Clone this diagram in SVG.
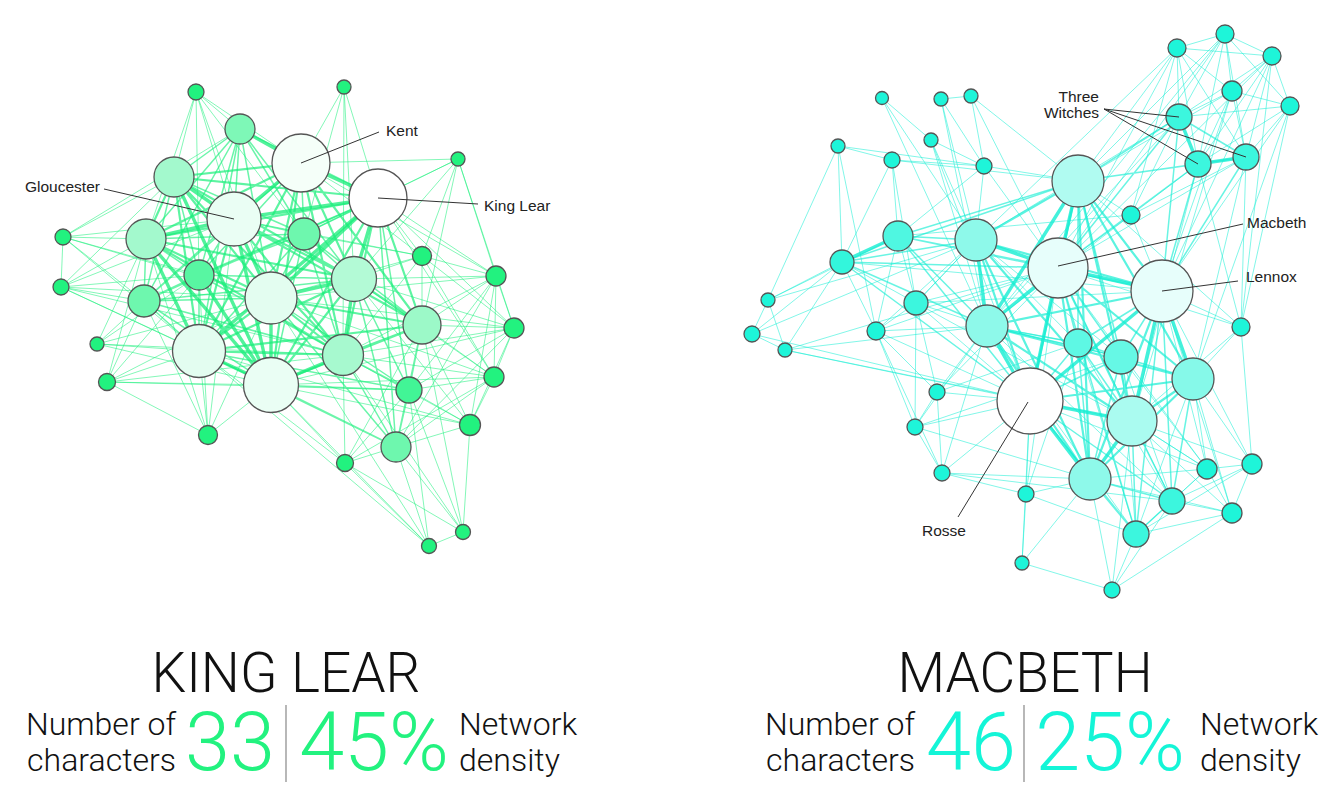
<svg xmlns="http://www.w3.org/2000/svg" width="1336" height="794" viewBox="0 0 1336 794">
<style>
.ge1{fill:none;stroke:#1ff07e;stroke-width:1;opacity:.55}
.ge2{fill:none;stroke:#1cef7c;stroke-width:1.5;opacity:.65}
.ge3{fill:none;stroke:#1aef7b;stroke-width:2.2;opacity:.7}
.ge4{fill:none;stroke:#18ee7a;stroke-width:3.4;opacity:.75}
.ce1{fill:none;stroke:#1befd6;stroke-width:1;opacity:.55}
.ce2{fill:none;stroke:#18eed4;stroke-width:1.5;opacity:.65}
.ce3{fill:none;stroke:#16eed3;stroke-width:2.2;opacity:.7}
.ce4{fill:none;stroke:#14edd2;stroke-width:3.4;opacity:.8}
circle{stroke:#555;stroke-width:1.3}
.g0{fill:#22f27f}.g1{fill:#42f596}.g2{fill:#6ef7ae}.g3{fill:#a3f9cd}.g4{fill:#e3fdf0}.g5{fill:#f5fff9}.w{fill:#fff}
.c0{fill:#1ef5d9}.c1{fill:#3cf6de}.c2{fill:#5ef8e4}.c3{fill:#8ef9ea}.c4{fill:#b0fbf1}.c5{fill:#e7fefb}
.lab{font-family:"Liberation Sans",Arial,sans-serif;font-size:15.5px;fill:#222}
.lead{stroke:#333;stroke-width:1;fill:none}
.title{font-family:Roboto,"Liberation Sans",sans-serif;font-weight:300;font-size:55px;fill:#111}
.sub{font-family:Roboto,"Liberation Sans",sans-serif;font-weight:300;font-size:32px;fill:#111}
.num{font-family:Roboto,"Liberation Sans",sans-serif;font-weight:300;font-size:81px}
.div{stroke:#888;stroke-width:1.2}
</style>
<rect width="1336" height="794" fill="#fff"/>
<g id="connectors">
<g id="lear-edges">
<path class="ge1" d="M196 92L240 129M196 92L301 163M196 92L174 177M196 92L234 219M196 92L304 234M196 92L146 239M196 92L199 275M196 92L271 298M344 87L301 163M344 87L378 198M344 87L304 234M344 87L354 279M344 87L343 355M458 159L378 198M458 159L422 256M458 159L354 279M458 159L422 325M458 159L496 276M458 159L514 328M458 159L301 163M458 159L304 234M63 237L61 287M63 237L146 239M63 237L174 177M63 237L234 219M63 237L144 301M63 237L199 275M63 237L271 298M63 237L199 351M63 237L240 129M422 256L378 198M422 256L354 279M422 256L422 325M422 256L496 276M422 256L301 163M422 256L304 234M422 256L343 355M422 256L271 298M422 256L514 328M422 256L494 377M422 256L234 219M496 276L378 198M496 276L354 279M496 276L422 325M496 276L514 328M496 276L494 377M496 276L343 355M496 276L409 390M496 276L396 447M496 276L470 425M496 276L301 163M496 276L271 298M61 287L146 239M61 287L144 301M61 287L199 351M61 287L271 385M61 287L234 219M61 287L174 177M61 287L271 298M61 287L199 275M61 287L343 355"/>
<path class="ge1" d="M514 328L422 325M514 328L494 377M514 328L470 425M514 328L354 279M514 328L343 355M514 328L378 198M514 328L409 390M514 328L396 447M514 328L271 298M514 328L271 385M97 344L199 351M97 344L144 301M97 344L146 239M97 344L343 355M97 344L271 385M97 344L271 298M97 344L199 275M494 377L422 325M494 377L470 425M494 377L343 355M494 377L354 279M494 377L409 390M494 377L396 447M494 377L378 198M494 377L345 463M494 377L271 298M494 377L271 385M107 382L199 351M107 382L271 385M107 382L144 301M107 382L146 239M107 382L199 275M107 382L409 390M107 382L271 298M107 382L208 435M107 382L343 355M409 390L470 425M409 390L345 463M409 390L429 546"/>
<path class="ge1" d="M470 425L422 325M470 425L396 447M470 425L343 355M470 425L354 279M470 425L463 532M470 425L199 351M470 425L271 385M208 435L199 351M208 435L271 385M208 435L144 301M208 435L199 275M208 435L146 239M208 435L271 298M208 435L234 219M396 447L345 463M396 447L429 546M396 447L463 532M345 463L271 385M345 463L429 546M345 463L463 532M345 463L343 355M345 463L199 351M345 463L422 325M463 532L429 546M463 532L409 390M463 532L422 325M463 532L343 355M429 546L271 385M429 546L199 351M429 546L271 298"/>
<path class="ge2" d="M240 129L174 177M240 129L234 219M240 129L378 198M240 129L146 239M240 129L271 298M240 129L354 279M240 129L199 351M304 234L301 163M304 234L234 219M304 234L378 198M304 234L271 298M304 234L354 279M304 234L199 351M304 234L271 385M304 234L174 177M304 234L146 239M304 234L422 325M304 234L343 355M199 275L174 177M199 275L234 219M199 275L378 198M199 275L146 239M199 275L271 298M199 275L354 279M199 275L199 351M199 275L343 355M199 275L301 163"/>
<path class="ge2" d="M144 301L174 177M144 301L234 219M144 301L146 239M144 301L271 298M144 301L199 351M144 301L271 385M144 301L301 163M144 301L378 198M144 301L354 279M144 301L343 355M409 390L378 198M409 390L271 298M409 390L354 279M409 390L422 325M409 390L199 351M409 390L343 355M409 390L271 385M396 447L271 298M396 447L354 279M396 447L422 325M396 447L199 351M396 447L343 355M396 447L271 385M396 447L378 198M240 129L304 234M240 129L199 275M304 234L199 275M199 275L144 301M240 129L144 301M409 390L396 447"/>
<path class="ge3" d="M301 163L174 177M301 163L146 239M301 163L271 298M301 163L354 279M301 163L422 325M301 163L199 351M301 163L343 355M301 163L271 385M174 177L378 198M174 177L146 239M174 177L271 298M174 177L354 279M174 177L199 351M174 177L343 355M234 219L354 279M234 219L422 325M234 219L199 351M234 219L343 355M378 198L146 239M378 198L422 325M378 198L343 355M378 198L271 385"/>
<path class="ge3" d="M146 239L271 298M146 239L354 279M146 239L343 355M271 298L422 325M271 298L199 351M271 298L343 355M354 279L422 325M354 279L199 351M354 279L271 385M422 325L199 351M422 325L343 355M422 325L271 385M199 351L343 355"/>
<path class="ge4" d="M301 163L378 198M240 129L301 163M234 219L378 198M234 219L271 298M234 219L271 385M271 298L271 385M199 351L271 385M378 198L271 298M301 163L234 219M234 219L146 239M146 239L199 351M174 177L234 219M199 275L271 385M378 198L354 279M354 279L343 355M343 355L271 385M271 298L354 279"/>
<path class="ge4" d="M146 239L271 385M174 177L271 385M378 198L199 351"/>
</g>
<g id="macbeth-edges">
<path class="ce1" d="M1177 48L1225 34M1177 48L1272 56M1177 48L1232 91M1177 48L1179 117M1177 48L1198 164M1177 48L1246 157M1225 34L1272 56M1225 34L1232 91M1225 34L1290 106M1225 34L1179 117M1225 34L1246 157M1225 34L1198 164M1272 56L1232 91M1272 56L1290 106M1272 56L1179 117M1272 56L1198 164M1272 56L1246 157M1232 91L1290 106M1232 91L1179 117M1232 91L1198 164M1232 91L1246 157M1290 106L1179 117M1290 106L1198 164M1290 106L1246 157"/>
<path class="ce1" d="M1177 48L1078 181M1177 48L1058 268M1232 91L1078 181M1232 91L1162 291M1290 106L1162 291M1272 56L1162 291M1225 34L1078 181M1177 48L1131 215M1179 117L1131 215M1198 164L1131 215M1246 157L1131 215M1198 164L1241 327M1246 157L1241 327M1290 106L1241 327M1272 56L1241 327M1179 117L976 240M1177 48L976 240M1225 34L1058 268M1246 157L1193 379M1290 106L1193 379M1179 117L987 326M1198 164L1132 421M1232 91L1132 421M1246 157L1058 268M1225 34L987 326M1272 56L1058 268"/>
<path class="ce1" d="M882 98L931 140M882 98L976 240M882 98L987 326M941 99L971 96M941 99L984 166M941 99L976 240M941 99L987 326M971 96L984 166M971 96L1078 181M971 96L1058 268M931 140L976 240M931 140L987 326M931 140L1030 401M931 140L984 166M838 146L892 160M838 146L984 166M838 146L842 262M838 146L768 300M838 146L876 331M892 160L984 166M892 160L1078 181M892 160L898 236M892 160L842 262M892 160L916 303M984 166L1078 181M984 166L976 240M984 166L1058 268M984 166L898 236M1131 215L1078 181M1131 215L1058 268M1131 215L1162 291M1131 215L987 326M1131 215L898 236"/>
<path class="ce1" d="M842 262L768 300M842 262L752 334M842 262L785 350M842 262L916 303M842 262L876 331M842 262L1162 291M768 300L752 334M768 300L785 350M768 300L898 236M768 300L976 240M752 334L785 350M752 334L1030 401M752 334L976 240M785 350L1030 401M785 350L1132 421M785 350L987 326M785 350L1058 268M916 303L898 236M916 303L976 240M916 303L1058 268M916 303L987 326M916 303L1030 401M916 303L876 331M916 303L1132 421M916 303L1162 291M916 303L915 427M916 303L937 392"/>
<path class="ce1" d="M876 331L987 326M876 331L1030 401M876 331L915 427M876 331L937 392M876 331L942 473M876 331L1058 268M876 331L976 240M876 331L898 236M1241 327L1162 291M1241 327L1193 379M1241 327L1132 421M1241 327L1058 268M1241 327L1078 181M1241 327L1252 464M937 392L1030 401M937 392L987 326M937 392L915 427M937 392L942 473M937 392L1058 268M937 392L1078 343M915 427L942 473M915 427L1030 401M915 427L987 326M915 427L1090 479M915 427L1121 357M942 473L1030 401M942 473L1090 479M942 473L987 326M942 473L1172 501M942 473L1026 494"/>
<path class="ce1" d="M1026 494L1030 401M1026 494L1022 563M1026 494L1090 479M1026 494L1078 343M1026 494L1136 534M1026 494L1058 268M1207 469L1172 501M1207 469L1252 464M1207 469L1232 513M1207 469L1136 534M1207 469L1132 421M1207 469L1193 379M1207 469L1162 291M1207 469L1090 479M1207 469L1121 357M1207 469L1058 268M1207 469L1030 401M1252 464L1232 513M1252 464L1172 501M1252 464L1132 421M1252 464L1193 379M1252 464L1162 291M1252 464L1136 534M1232 513L1172 501M1232 513L1136 534M1232 513L1132 421M1232 513L1193 379M1232 513L1162 291M1232 513L1090 479"/>
<path class="ce1" d="M1136 534L1112 590M1136 534L987 326M1136 534L1078 343M1136 534L1121 357M1136 534L1193 379M1022 563L1030 401M1022 563L1112 590M1022 563L1090 479M1112 590L1090 479M1112 590L1172 501M1112 590L1232 513M1112 590L1132 421M1172 501L1078 343M1172 501L987 326M1172 501L1121 357M1172 501L1058 268M976 240L1078 343M976 240L1121 357M976 240L916 303M987 326L1078 343M987 326L1121 357M1132 421L1207 469"/>
<path class="ce2" d="M898 236L976 240M898 236L1058 268M898 236L987 326M898 236L1030 401M898 236L1078 181M898 236L1162 291M1078 343L1058 268M1078 343L1162 291M1078 343L987 326M1078 343L1030 401M1078 343L1132 421M1078 343L1090 479M1078 343L1078 181M1121 357L1058 268M1121 357L1162 291M1121 357L987 326M1121 357L1030 401M1121 357L1132 421M1121 357L1090 479M1121 357L1193 379M1121 357L1078 181"/>
<path class="ce2" d="M1172 501L1090 479M1172 501L1132 421M1172 501L1193 379M1172 501L1162 291M1172 501L1030 401M1136 534L1090 479M1136 534L1132 421M1136 534L1162 291M1136 534L1030 401M1136 534L1058 268M1179 117L1078 181M1198 164L1078 181M1246 157L1078 181M1179 117L1058 268M1198 164L1162 291M1246 157L1162 291M842 262L976 240M842 262L1058 268M842 262L987 326M842 262L1030 401M842 262L1078 181M1179 117L1162 291M1198 164L1058 268M1078 343L1121 357M1172 501L1136 534M1179 117L1246 157"/>
<path class="ce3" d="M1078 181L976 240M1078 181L1162 291M1078 181L1030 401M1078 181L1132 421M1078 181L1193 379M1078 181L1090 479M976 240L1162 291M976 240L1030 401M976 240L1132 421M976 240L1090 479M1058 268L1193 379M1058 268L1132 421M1058 268L1090 479M1162 291L987 326M1162 291L1090 479M987 326L1132 421M987 326L1090 479M987 326L1193 379M1193 379L1030 401M1193 379L1132 421M1193 379L1090 479"/>
<path class="ce4" d="M1078 181L1058 268M976 240L1058 268M1058 268L1162 291M1058 268L1030 401M1162 291L1030 401M1030 401L1132 421M1162 291L1132 421M987 326L1030 401M1030 401L1090 479M1132 421L1090 479M1162 291L1193 379M976 240L987 326M1078 181L987 326M1058 268L987 326M1179 117L1198 164M1198 164L1246 157M898 236L842 262"/>
</g>
</g>
<g id="lear-nodes">
<g id="k1"><circle cx="196" cy="92" r="8" class="g0"/></g>
<g id="k2"><circle cx="344" cy="87" r="7" class="g0"/></g>
<g id="k3"><circle cx="240" cy="129" r="15" class="g2" style="fill:#7ef8b7"/></g>
<g id="k4"><circle cx="301" cy="163" r="29" class="g5"/></g>
<g id="k5"><circle cx="458" cy="159" r="7" class="g0"/></g>
<g id="k6"><circle cx="174" cy="177" r="20" class="g3"/></g>
<g id="k7"><circle cx="234" cy="219" r="27" class="g4" style="fill:#eafef4"/></g>
<g id="k8"><circle cx="378" cy="198" r="29" class="w"/></g>
<g id="k9"><circle cx="304" cy="234" r="16" class="g2"/></g>
<g id="k10"><circle cx="146" cy="239" r="20" class="g3"/></g>
<g id="k11"><circle cx="63" cy="237" r="8" class="g0"/></g>
<g id="k12"><circle cx="422" cy="256" r="9.5" class="g0"/></g>
<g id="k13"><circle cx="496" cy="276" r="10" class="g0"/></g>
<g id="k14"><circle cx="199" cy="275" r="15" class="g1" style="fill:#58f6a2"/></g>
<g id="k15"><circle cx="271" cy="298" r="26" class="g4"/></g>
<g id="k16"><circle cx="354" cy="279" r="22.5" class="g3" style="fill:#b3fad6"/></g>
<g id="k17"><circle cx="61" cy="287" r="8" class="g0"/></g>
<g id="k18"><circle cx="144" cy="301" r="16" class="g2"/></g>
<g id="k19"><circle cx="514" cy="328" r="10" class="g0"/></g>
<g id="k20"><circle cx="422" cy="325" r="19" class="g3" style="fill:#9cf9c8"/></g>
<g id="k21"><circle cx="97" cy="344" r="7" class="g0"/></g>
<g id="k22"><circle cx="199" cy="351" r="26.5" class="g4"/></g>
<g id="k23"><circle cx="343" cy="355" r="20.5" class="g3" style="fill:#a7f9cf"/></g>
<g id="k24"><circle cx="494" cy="377" r="10" class="g0"/></g>
<g id="k25"><circle cx="271" cy="385" r="27.5" class="g4" style="fill:#eafef4"/></g>
<g id="k26"><circle cx="107" cy="382" r="8.5" class="g0"/></g>
<g id="k27"><circle cx="409" cy="390" r="13" class="g1"/></g>
<g id="k28"><circle cx="470" cy="425" r="10.5" class="g0"/></g>
<g id="k29"><circle cx="208" cy="435" r="9.5" class="g0"/></g>
<g id="k30"><circle cx="396" cy="447" r="15" class="g2"/></g>
<g id="k31"><circle cx="345" cy="463" r="8.5" class="g0"/></g>
<g id="k32"><circle cx="463" cy="532" r="7.5" class="g0"/></g>
<g id="k33"><circle cx="429" cy="546" r="7.5" class="g0"/></g>
</g>
<g id="macbeth-nodes">
<g id="m1"><circle cx="1177" cy="48" r="9" class="c0"/></g>
<g id="m2"><circle cx="1225" cy="34" r="9" class="c0"/></g>
<g id="m3"><circle cx="1272" cy="56" r="9" class="c0"/></g>
<g id="m4"><circle cx="1232" cy="91" r="10" class="c0"/></g>
<g id="m5"><circle cx="1290" cy="106" r="9" class="c0"/></g>
<g id="m6"><circle cx="882" cy="98" r="6.5" class="c0"/></g>
<g id="m7"><circle cx="941" cy="99" r="7" class="c0"/></g>
<g id="m8"><circle cx="971" cy="96" r="7" class="c0"/></g>
<g id="m9"><circle cx="931" cy="140" r="7" class="c0"/></g>
<g id="m10"><circle cx="838" cy="146" r="7" class="c0"/></g>
<g id="m11"><circle cx="892" cy="160" r="8" class="c0"/></g>
<g id="m12"><circle cx="984" cy="166" r="8" class="c0"/></g>
<g id="m13"><circle cx="1179" cy="117" r="13" class="c1"/></g>
<g id="m14"><circle cx="1198" cy="164" r="13" class="c1"/></g>
<g id="m15"><circle cx="1246" cy="157" r="13" class="c1"/></g>
<g id="m16"><circle cx="1078" cy="181" r="26" class="c4"/></g>
<g id="m17"><circle cx="1131" cy="215" r="9" class="c0"/></g>
<g id="m18"><circle cx="898" cy="236" r="15" class="c2" style="fill:#4ff7e1"/></g>
<g id="m19"><circle cx="976" cy="240" r="21" class="c3"/></g>
<g id="m20"><circle cx="1058" cy="268" r="30" class="c5"/></g>
<g id="m21"><circle cx="842" cy="262" r="12" class="c1" style="fill:#33f6dc"/></g>
<g id="m22"><circle cx="1162" cy="291" r="31" class="c5"/></g>
<g id="m23"><circle cx="916" cy="303" r="12" class="c1"/></g>
<g id="m24"><circle cx="768" cy="300" r="7" class="c0"/></g>
<g id="m25"><circle cx="752" cy="334" r="8" class="c0"/></g>
<g id="m26"><circle cx="785" cy="350" r="7" class="c0"/></g>
<g id="m27"><circle cx="876" cy="331" r="9" class="c0"/></g>
<g id="m28"><circle cx="1241" cy="327" r="9" class="c0"/></g>
<g id="m29"><circle cx="987" cy="326" r="21" class="c3"/></g>
<g id="m30"><circle cx="1078" cy="343" r="14" class="c2"/></g>
<g id="m31"><circle cx="1121" cy="357" r="17" class="c2" style="fill:#66f8e5"/></g>
<g id="m32"><circle cx="1193" cy="379" r="21" class="c3" style="fill:#86f9e9"/></g>
<g id="m33"><circle cx="1030" cy="401" r="33" class="w"/></g>
<g id="m34"><circle cx="937" cy="392" r="8" class="c0"/></g>
<g id="m35"><circle cx="915" cy="427" r="8" class="c0"/></g>
<g id="m36"><circle cx="1132" cy="421" r="25" class="c4" style="fill:#aafbf0"/></g>
<g id="m37"><circle cx="942" cy="473" r="8" class="c0"/></g>
<g id="m38"><circle cx="1026" cy="494" r="8" class="c0"/></g>
<g id="m39"><circle cx="1090" cy="479" r="21" class="c3"/></g>
<g id="m40"><circle cx="1207" cy="469" r="10" class="c0"/></g>
<g id="m41"><circle cx="1252" cy="464" r="10" class="c0"/></g>
<g id="m42"><circle cx="1172" cy="501" r="13" class="c1"/></g>
<g id="m43"><circle cx="1232" cy="513" r="10" class="c0"/></g>
<g id="m44"><circle cx="1136" cy="534" r="13" class="c1"/></g>
<g id="m45"><circle cx="1022" cy="563" r="7" class="c0"/></g>
<g id="m46"><circle cx="1112" cy="590" r="8" class="c0"/></g>
</g>
<g id="labels">
<path class="lead" d="M301 163L379 132M104 189L234 219M378 198L478 204M1104 109L1179 117M1104 109L1198 164M1104 109L1246 157M1058 266L1243 224M1162 291L1238 281M958 517L1028 402"/>
<text class="lab" x="386" y="136">Kent</text>
<text class="lab" x="25" y="192">Gloucester</text>
<text class="lab" x="484" y="211">King Lear</text>
<text class="lab" x="1099" y="102" text-anchor="end">Three</text>
<text class="lab" x="1099" y="118" text-anchor="end">Witches</text>
<text class="lab" x="1247" y="228">Macbeth</text>
<text class="lab" x="1246" y="282">Lennox</text>
<text class="lab" x="922" y="536">Rosse</text>
</g>
<g id="lear-stats">
<text class="title" x="286" y="692" text-anchor="middle">KING LEAR</text>
<text class="sub" x="176" y="735" text-anchor="end">Number of</text>
<text class="sub" x="176" y="771" text-anchor="end">characters</text>
<text class="num" x="230" y="770" text-anchor="middle" fill="#22f27f">33</text>
<line class="div" x1="286" y1="705" x2="286" y2="782"/>
<text class="num" x="374" y="770" text-anchor="middle" fill="#22f27f">45%</text>
<text class="sub" x="459" y="735">Network</text>
<text class="sub" x="459" y="771">density</text>
</g>
<g id="macbeth-stats">
<text class="title" x="1025" y="692" text-anchor="middle">MACBETH</text>
<text class="sub" x="915" y="735" text-anchor="end">Number of</text>
<text class="sub" x="915" y="771" text-anchor="end">characters</text>
<text class="num" x="971" y="770" text-anchor="middle" fill="#14f5d7">46</text>
<line class="div" x1="1024" y1="705" x2="1024" y2="782"/>
<text class="num" x="1110" y="770" text-anchor="middle" fill="#14f5d7">25%</text>
<text class="sub" x="1200" y="735">Network</text>
<text class="sub" x="1200" y="771">density</text>
</g>
</svg>
